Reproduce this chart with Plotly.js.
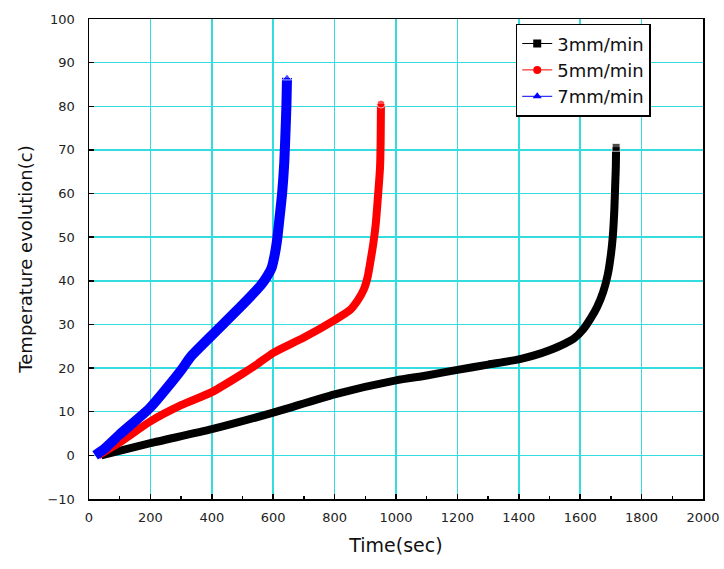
<!DOCTYPE html>
<html>
<head>
<meta charset="utf-8">
<script src="https://cdn.plot.ly/plotly-3.0.1.min.js"></script>
<style>html,body{margin:0;padding:0;background:#fff;}#chart{width:724px;height:569px;}</style>
</head>
<body>
<div id="chart"></div>
<script>
// Series names
const seriesNames = ["3mm/min", "5mm/min", "7mm/min"];

// 3 mm/min
const time3 = [40, 200, 400, 600, 800, 1000, 1100, 1200, 1300, 1400, 1450, 1500, 1550, 1580, 1610, 1635, 1655, 1675, 1690, 1700, 1706, 1711, 1714, 1716, 1717];
const temp3 = [0, 2.8, 6.0, 9.8, 14.0, 17.2, 18.3, 19.6, 20.8, 22.0, 22.9, 24.1, 25.6, 26.8, 28.9, 31.5, 34.0, 37.5, 41.5, 46.0, 50.0, 56.0, 62.0, 66.0, 70.6];

// 5 mm/min
const time5 = [30, 100, 200, 300, 400, 500, 550, 600, 700, 800, 850, 875, 895, 908, 918, 926, 934, 942, 948, 950, 951];
const temp5 = [0, 3.0, 7.8, 11.5, 14.5, 18.7, 21.0, 23.5, 27.0, 31.0, 33.3, 35.5, 38.0, 41.0, 45.0, 48.5, 53.0, 60.0, 66.0, 72.0, 80.5];

// 7 mm/min
const time7 = [20, 50, 100, 200, 300, 330, 400, 500, 560, 580, 595, 605, 612, 620, 629, 636, 640, 643, 645];
const temp7 = [0, 1.5, 4.8, 11.0, 19.5, 22.5, 27.5, 34.5, 39.0, 41.0, 43.0, 46.0, 49.0, 54.0, 60.0, 67.0, 74.0, 80.0, 86.5];

// Axis ticks
const xTicks = [0, 200, 400, 600, 800, 1000, 1200, 1400, 1600, 1800, 2000];
const yTicks = [-10, 0, 10, 20, 30, 40, 50, 60, 70, 80, 90, 100];

const colors = ["#000000", "#ff0000", "#0000ff"];
const symbols = ["square", "circle", "triangle-up"];
const widths = [8, 8, 10];
const xs = [time3, time5, time7];
const ys = [temp3, temp5, temp7];

const traces = [];
for (let i = 0; i < 3; i++) {
  const n = xs[i].length;
  traces.push({
    x: xs[i], y: ys[i], type: "scatter", mode: "lines+markers",
    line: {color: colors[i], width: widths[i], shape: "spline", smoothing: 0.6},
    marker: {symbol: symbols[i], color: colors[i], size: xs[i].map((v, k) => k === n - 1 ? 8 : 0)},
    showlegend: false, hoverinfo: "skip"
  });
}
for (let i = 0; i < 3; i++) {
  traces.push({
    x: [null], y: [null], type: "scatter", mode: "lines+markers",
    name: seriesNames[i],
    line: {color: colors[i], width: 1},
    marker: {symbol: symbols[i], color: colors[i], size: 8}
  });
}

const tickFont = {family: "DejaVu Sans, Verdana, sans-serif", size: 13, color: "#222"};
const axisCommon = {
  showline: true, linecolor: "#000", linewidth: 1.5, mirror: true,
  showgrid: true, gridcolor: "#33dddd", gridwidth: 1.5,
  zeroline: false, ticks: "inside", ticklen: 5, tickcolor: "#000", tickwidth: 1.5,
  tickfont: tickFont
};

const layout = {
  width: 724, height: 569,
  margin: {l: 89, r: 21, t: 19, b: 70},
  paper_bgcolor: "#fff", plot_bgcolor: "#fff",
  font: {family: "DejaVu Sans, Verdana, sans-serif", color: "#111"},
  xaxis: Object.assign({}, axisCommon, {
    range: [0, 2000], tickvals: xTicks, ticklabelstandoff: 6,
    minor: {ticks: "inside", ticklen: 3, dtick: 100, tickcolor: "#000", showgrid: false},
    title: {text: "Time(sec)", font: {size: 19, color: "#111"}, standoff: 14}
  }),
  yaxis: Object.assign({}, axisCommon, {
    range: [-10, 100], tickvals: yTicks, ticklabelstandoff: 10,
    title: {text: "Temperature evolution(c)", font: {size: 18, color: "#111"}, standoff: 10}
  }),
  legend: {
    x: 0.695, y: 0.99, xanchor: "left", yanchor: "top",
    bgcolor: "#fff", bordercolor: "#000", borderwidth: 1.5,
    font: {size: 18, color: "#111"}, tracegroupgap: 0
  },
  showlegend: true
};

Plotly.newPlot("chart", traces, layout, {displayModeBar: false, staticPlot: true});
</script>
</body>
</html>
